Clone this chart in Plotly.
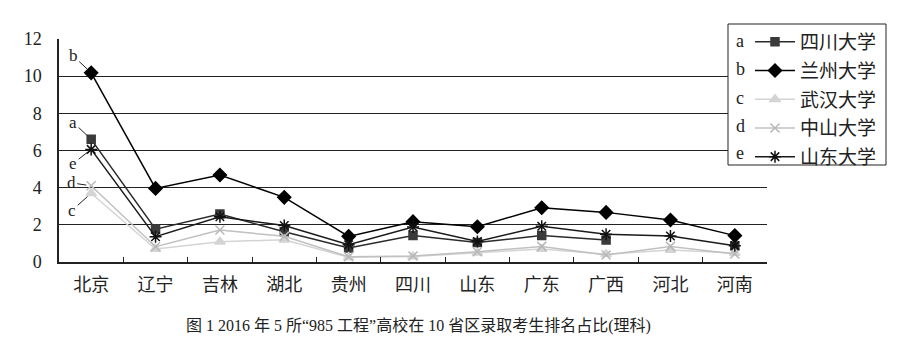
import plotly.graph_objects as go

provinces = ["北京", "辽宁", "吉林", "湖北", "贵州", "四川", "山东", "广东", "广西", "河北", "河南"]
a_sichuan = [6.6, 1.77, 2.58, 1.63, 0.75, 1.42, 1.05, 1.42, 1.18, None, 0.86]
b_lanzhou = [10.18, 3.96, 4.68, 3.48, 1.38, 2.17, 1.9, 2.92, 2.67, 2.26, 1.42]
c_wuhan = [3.7, 0.7, 1.09, 1.2, 0.25, 0.3, 0.5, 0.7, 0.42, 0.65, 0.48]
d_zhongshan = [4.1, 0.82, 1.72, 1.38, 0.28, 0.32, 0.55, 0.84, 0.38, 0.84, 0.43]
e_shandong = [6.06, 1.36, 2.44, 1.96, 0.93, 1.88, 1.1, 1.92, 1.49, 1.4, 0.88]
letters = ["a", "b", "c", "d", "e"]
names = ["四川大学", "兰州大学", "武汉大学", "中山大学", "山东大学"]
yticks = [0, 2, 4, 6, 8, 10, 12]
caption = "图 1 2016 年 5 所“985 工程”高校在 10 省区录取考生排名占比(理科)"

series = [a_sichuan, b_lanzhou, c_wuhan, d_zhongshan, e_shandong]
styles = [
    dict(color="#3a3a3a", symbol="square", size=8, lc="#2a2a2a"),
    dict(color="#000000", symbol="diamond", size=10, lc="#000000"),
    dict(color="#d4d4d4", symbol="triangle-up", size=9, lc="#d4d4d4"),
    dict(color="#b8b8b8", symbol="x-thin-open", size=9, lc="#c0c0c0"),
    dict(color="#111111", symbol="asterisk-open", size=10, lc="#1a1a1a"),
]

W, H = 901, 355
ml, mr, mt, mb = 59, 134, 39, 93
pw, ph = W - ml - mr, H - mt - mb

def px(x):
    return (x - ml) / pw

def py(y):
    return (H - mb - y) / ph

fig = go.Figure()
for i, (vals, st) in enumerate(zip(series, styles)):
    fig.add_trace(go.Scatter(
        x=provinces, y=vals, mode="lines+markers", name=names[i],
        legendgroup=letters[i],
        line=dict(color=st["lc"], width=1.5),
        marker=dict(color=st["color"], symbol=st["symbol"], size=st["size"],
                    line=dict(color=st["color"], width=1.5)),
    ))

# legend box
fig.add_shape(type="rect", xref="paper", yref="paper",
              x0=px(728), x1=px(886), y0=py(165), y1=py(24),
              line=dict(color="#222", width=1), fillcolor="white", layer="above")

ann = []
row_y = [41, 69, 98, 126, 153]
for i, l in enumerate(letters):
    ann.append(dict(xref="paper", yref="paper", x=px(740), y=py(row_y[i]),
                    text=l, showarrow=False, xanchor="center", yanchor="middle",
                    font=dict(family="Liberation Serif", size=18, color="#222")))

# leader labels near Beijing
lead = [(0, -18, -17), (1, -18, -17), (2, -19, 17), (3, -20, -3), (4, -18, 14)]
for i, ax, ay in lead:
    ann.append(dict(x=provinces[0], y=series[i][0], xref="x", yref="y",
                    text=letters[i], showarrow=True, arrowhead=0, arrowwidth=1,
                    arrowcolor="#222", ax=ax, ay=ay, standoff=5,
                    font=dict(family="Liberation Serif", size=17, color="#222")))

ann.append(dict(xref="paper", yref="paper", x=px(418), y=py(326), text=caption,
                showarrow=False, xanchor="center", yanchor="middle",
                font=dict(family="Liberation Serif, Noto Sans CJK SC", size=16, color="#222")))

fig.update_layout(
    width=W, height=H, margin=dict(l=ml, r=mr, t=mt, b=mb),
    paper_bgcolor="white", plot_bgcolor="white",
    showlegend=True,
    legend=dict(x=px(750), y=py(23), xanchor="left", yanchor="top",
                bgcolor="rgba(0,0,0,0)", borderwidth=0, tracegroupgap=1,
                font=dict(family="Noto Sans CJK SC", size=19, color="#222"),
                itemwidth=40),
    annotations=ann,
)
fig.update_xaxes(type="category", tickson="boundaries", ticks="inside", ticklen=5,
                 tickcolor="#222", showline=True, linecolor="#222", linewidth=1.5,
                 showgrid=False, range=[-0.5, 10.5], ticklabelstandoff=6,
                 tickfont=dict(family="Noto Sans CJK SC", size=18, color="#222"))
fig.update_yaxes(range=[0, 12], tickvals=yticks, showgrid=True, gridcolor="#222",
                 gridwidth=1.2, showline=True, linecolor="#222", linewidth=1.5,
                 zeroline=False, ticks="", ticklabelstandoff=12,
                 tickfont=dict(family="Liberation Serif", size=18, color="#222"))

fig.write_html("out.html")
